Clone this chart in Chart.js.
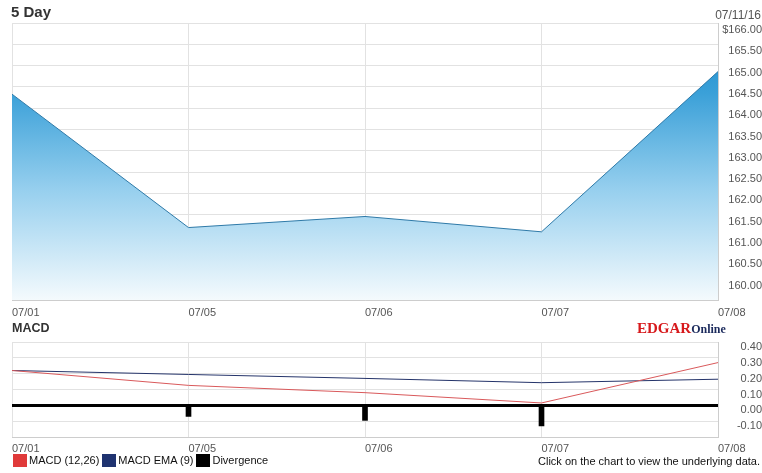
<!DOCTYPE html>
<html>
<head>
<meta charset="utf-8">
<title>5 Day</title>
<script src="https://cdn.jsdelivr.net/npm/chart.js@4.4.1/dist/chart.umd.min.js"></script>
<style>
  html, body { margin: 0; padding: 0; background: #fff; }
  body { width: 762px; height: 473px; position: relative; overflow: hidden;
         font-family: "Liberation Sans", Arial, sans-serif; }
  canvas { position: absolute; left: 0; }
  #priceChart { top: 0; }
  #macdChart { top: 322px; }
  .txt { position: absolute; white-space: nowrap; line-height: 1; }
  #title { left: 11px; top: 4px; font-weight: bold; font-size: 15px; color: #333; }
  #asOf { right: 1px; top: 9px; font-size: 12px; color: #555; }
  #macdTitle { left: 12px; top: 322px; font-weight: bold; font-size: 12.5px; color: #333; }
  #logo { left: 637px; top: 320px; font-family: "Liberation Serif", "Times New Roman", serif; font-weight: bold; }
  #logo .a { color: #d7191c; font-size: 15px; }
  #logo .b { color: #1b2a5c; font-size: 12px; }
  #legend { left: 13px; top: 454px; font-size: 11px; color: #111; display: flex; align-items: center; }
  #legend .box { display: inline-block; width: 14px; height: 13px; margin-right: 2px; }
  #legend .item { display: flex; align-items: center; margin-right: 3px; }
  #footer { right: 2px; top: 456px; font-size: 11px; color: #111; }
</style>
</head>
<body>
<canvas id="priceChart" width="762" height="322" style="width:762px;height:322px"></canvas>
<canvas id="macdChart" width="762" height="151" style="width:762px;height:151px"></canvas>
<div class="txt" id="title">5 Day</div>
<div class="txt" id="asOf">07/11/16</div>
<div class="txt" id="macdTitle">MACD</div>
<div class="txt" id="logo"><span class="a">EDGAR</span><span class="b">Online</span></div>
<div class="txt" id="legend"></div>
<div class="txt" id="footer">Click on the chart to view the underlying data.</div>
<script>
// Trading days shown on both panels
const dates = ['07/01', '07/05', '07/06', '07/07', '07/08'];

// Closing prices (USD)
const closePrices = [164.33, 161.20, 161.46, 161.10, 164.86];

// MACD indicator series
const macdLine = [0.22, 0.126, 0.08, 0.015, 0.27];
const macdSignal = [0.22, 0.195, 0.17, 0.143, 0.165];
const macdDivergence = [0, -0.07, -0.095, -0.13, null];
const macdNames = ['MACD (12,26)', 'MACD EMA (9)', 'Divergence'];
const macdColors = ['#d9595b', '#25346a', '#000000'];
const legendColors = ['#e03a3a', '#1f3370', '#000000'];

// Axis ranges and tick steps
const priceRange = [159.5, 166];
const priceStep = 0.5;
const macdRange = [-0.2, 0.4];
const macdStep = 0.1;

const tickFont = { family: 'Liberation Sans', size: 11 };
const gridColor = '#e2e2e2';
const frameColor = '#cdcdcd';

function priceGradient(context) {
  const chart = context.chart;
  const area = chart.chartArea;
  if (!area) return 'rgba(0,0,0,0)';
  const g = chart.ctx.createLinearGradient(0, area.top, 0, area.bottom);
  g.addColorStop(0, '#1a88c9');
  g.addColorStop(0.25, '#3aa0d8');
  g.addColorStop(0.6, '#96cfee');
  g.addColorStop(1, '#f4fafd');
  return g;
}

new Chart(document.getElementById('priceChart'), {
  type: 'line',
  data: {
    labels: dates,
    datasets: [{
      data: closePrices,
      borderColor: '#2f7aa8',
      borderWidth: 1,
      pointRadius: 0,
      tension: 0,
      fill: 'start',
      backgroundColor: priceGradient
    }]
  },
  options: {
    responsive: false,
    animation: false,
    devicePixelRatio: 1,
    layout: { padding: { left: 12, top: 23, right: 0, bottom: 0 } },
    plugins: { legend: { display: false }, tooltip: { enabled: false } },
    scales: {
      x: {
        offset: false,
        grid: { color: gridColor, drawTicks: false, offset: false },
        border: { color: frameColor },
        ticks: { align: 'start', padding: 6, color: '#555', font: tickFont, maxRotation: 0, autoSkip: false },
        afterFit: s => { s.height = 22; }
      },
      y: {
        position: 'right',
        min: priceRange[0],
        max: priceRange[1],
        grid: { color: gridColor, drawTicks: false },
        border: { color: frameColor },
        ticks: {
          stepSize: priceStep,
          autoSkip: false,
          labelOffset: 7,
          padding: 3,
          crossAlign: 'far',
          color: '#555',
          font: tickFont,
          callback: v => v <= priceRange[0] ? '' : (v >= priceRange[1] ? '$' : '') + v.toFixed(2)
        },
        afterFit: s => { s.width = 44; }
      }
    }
  }
});

const isZero = ctx => ctx.tick && Math.abs(ctx.tick.value) < 1e-9;

new Chart(document.getElementById('macdChart'), {
  type: 'line',
  data: {
    labels: dates,
    datasets: [
      { type: 'line', label: macdNames[0], data: macdLine, borderColor: macdColors[0], borderWidth: 1, pointRadius: 0, tension: 0, fill: false },
      { type: 'line', label: macdNames[1], data: macdSignal, borderColor: macdColors[1], borderWidth: 1, pointRadius: 0, tension: 0, fill: false },
      { type: 'bar', label: macdNames[2], data: macdDivergence, backgroundColor: macdColors[2], barThickness: 5 }
    ]
  },
  options: {
    responsive: false,
    animation: false,
    devicePixelRatio: 1,
    layout: { padding: { left: 12, top: 20, right: 0, bottom: 16 } },
    plugins: { legend: { display: false }, tooltip: { enabled: false } },
    scales: {
      x: {
        offset: false,
        grid: { color: gridColor, drawTicks: false, offset: false },
        border: { color: frameColor },
        ticks: { align: 'start', padding: 5, color: '#555', font: tickFont, maxRotation: 0, autoSkip: false },
        afterFit: s => { s.height = 20; }
      },
      y: {
        position: 'right',
        min: macdRange[0],
        max: macdRange[1],
        grid: {
          drawTicks: false,
          color: ctx => isZero(ctx) ? '#000000' : gridColor,
          lineWidth: ctx => isZero(ctx) ? 3 : 1
        },
        border: { color: frameColor },
        ticks: {
          stepSize: macdStep,
          autoSkip: false,
          labelOffset: 5,
          padding: 3,
          crossAlign: 'far',
          color: '#555',
          font: tickFont,
          callback: v => v <= macdRange[0] + 1e-9 ? '' : (Math.abs(v) < 1e-9 ? 0 : v).toFixed(2)
        },
        afterFit: s => { s.width = 44; }
      }
    }
  }
});

// Legend entries for the MACD panel
const legend = document.getElementById('legend');
macdNames.forEach((name, i) => {
  const item = document.createElement('span');
  item.className = 'item';
  const box = document.createElement('span');
  box.className = 'box';
  box.style.background = legendColors[i];
  item.appendChild(box);
  item.appendChild(document.createTextNode(name));
  legend.appendChild(item);
});
</script>
</body>
</html>
